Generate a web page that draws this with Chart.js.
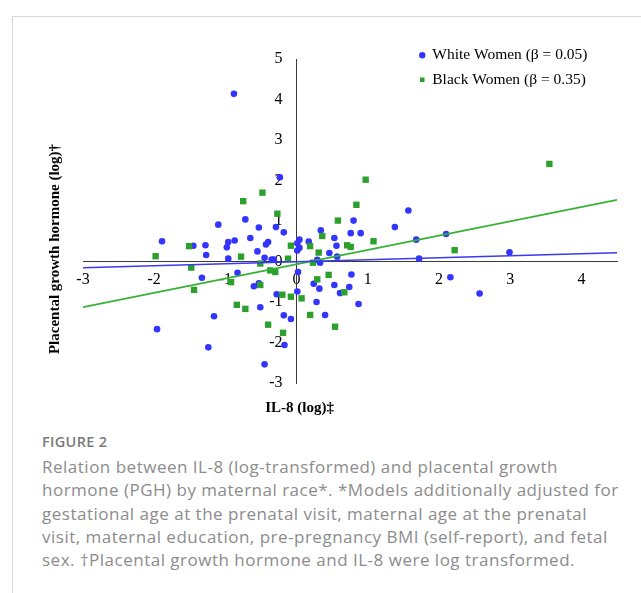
<!DOCTYPE html>
<html>
<head>
<meta charset="utf-8">
<script src="https://cdn.jsdelivr.net/npm/chart.js@4.4.1/dist/chart.umd.min.js"></script>
<style>
  html, body { margin: 0; padding: 0; background: #fff; }
  body { width: 641px; height: 593px; position: relative; overflow: hidden; }
  .frame {
    position: absolute; left: 12px; top: 16px; right: 0; bottom: 0;
    border-left: 1px solid #d6d6d6; border-top: 1px solid #d6d6d6;
  }
  #chart { position: absolute; left: 0; top: 0; }
  .fig {
    position: absolute; left: 42px; top: 432px;
    font-family: "Open Sans", sans-serif; font-weight: 600;
    font-size: 14.5px; color: #7a7a7a; letter-spacing: 0.3px;
  }
  .caption {
    position: absolute; left: 42px; top: 455px;
    font-family: "Open Sans", sans-serif; font-size: 17px; letter-spacing: 0.5px;
    line-height: 23.3px; color: #8c8c8c; white-space: nowrap;
  }
</style>
</head>
<body>
<div class="frame"></div>
<canvas id="chart" width="641" height="430"></canvas>
<div class="fig">FIGURE 2</div>
<div class="caption">Relation between IL-8 (log-transformed) and placental growth<br>hormone (PGH) by maternal race*. *Models additionally adjusted for<br>gestational age at the prenatal visit, maternal age at the prenatal<br>visit, maternal education, pre-pregnancy BMI (self-report), and fetal<br>sex. †Placental growth hormone and IL-8 were log transformed.</div>
<script>
document.addEventListener("DOMContentLoaded", function () {
// IL-8 (log) vs placental growth hormone (log)
const whiteX = [-0.88, -0.235, -1.10, -0.72, -0.53, -0.29, -0.18, -1.89, -1.28, -0.96,
  -0.98, -0.87, -0.65, -0.40, -0.43, -0.55, -1.27, -0.96, -0.45, -0.35,
  -0.32, -1.45, 1.57, 1.38, 0.80, 0.34, 0.76, 0.90, 0.53, 0.56,
  0.46, 0.57, 0.17, 0.04, 0.01, 0.04, 0.01, 0.29, 0.33, 1.68,
  2.10, 1.72, 2.99, 2.16, 2.57, 0.77, 0.87, 0.74, 0.61, 0.53,
  0.32, 0.24, 0.28, 0.40, 0.02, 0.01, -0.08, -0.83, -1.33, -0.60,
  -0.53, -0.28, -0.51, -1.16, -0.18, -0.17, -1.96, -1.24, -0.45];
const whiteY = [4.14, 2.08, 0.91, 1.04, 0.84, 0.85, 0.72, 0.50, 0.40, 0.48,
  0.35, 0.52, 0.58, 0.48, 0.42, 0.25, 0.16, 0.07, 0.09, 0.05,
  0.05, 0.39, 1.26, 0.85, 1.01, 0.77, 0.70, 0.70, 0.58, 0.39,
  0.21, 0.12, 0.49, 0.54, 0.45, 0.34, 0.27, 0.04, -0.03, 0.54,
  0.68, 0.07, 0.23, -0.39, -0.79, -0.32, -1.05, -0.63, -0.78, -0.58,
  -0.67, -0.55, -1.00, -1.32, -0.26, -0.74, -1.42, -0.28, -0.40, -0.61,
  -0.54, -0.81, -1.13, -1.35, -1.33, -2.06, -1.67, -2.12, -2.54];
const blackX = [-0.48, -0.75, -0.27, -1.51, -1.98, -0.78, -0.08, -0.12, -0.51, 0.97,
  0.84, 0.58, 0.36, 1.08, 0.19, 0.31, 0.71, 0.76, 0.23, 3.55,
  2.22, 0.67, 0.45, 0.29, 0.19, 0.54, 0.07, -1.48, -1.44, -0.92,
  -0.51, -0.37, -0.30, -0.20, -0.08, -0.84, -0.72, -0.40, -0.19];
const blackY = [1.70, 1.49, 1.18, 0.38, 0.13, 0.12, 0.39, 0.07, -0.05, 2.02,
  1.40, 1.01, 0.63, 0.50, 0.38, 0.22, 0.40, 0.36, -0.03, 2.41,
  0.28, -0.76, -0.33, -0.44, -1.32, -1.61, -0.91, -0.15, -0.70, -0.51,
  -0.58, -0.22, -0.26, -0.82, -0.87, -1.07, -1.17, -1.56, -1.76];
const trendX = [-3, 4.5];
const whiteTrend = [-0.156, 0.215];
const blackTrend = [-1.128, 1.523];
const xTicks = [-3, -2, -1, 0, 1, 2, 3, 4];
const yTicks = [-3, -2, -1, 0, 1, 2, 3, 4, 5];

const pts = (xs, ys) => xs.map((x, i) => ({x: x, y: ys[i]}));
const serif = "'Liberation Serif', 'Times New Roman', serif";

// axis titles sit outside the crossing axes, so draw them by hand
const axisTitles = {
  id: 'axisTitles',
  afterDraw(chart) {
    const ctx = chart.ctx, area = chart.chartArea;
    ctx.save();
    ctx.fillStyle = '#000';
    ctx.font = 'bold 15px ' + serif;
    ctx.textAlign = 'center';
    ctx.textBaseline = 'middle';
    ctx.fillText('IL-8 (log)‡', chart.scales.x.getPixelForValue(0) + 3, area.bottom + 25);
    ctx.translate(area.left - 28, 249);
    ctx.rotate(-Math.PI / 2);
    ctx.fillText('Placental growth hormone (log)†', 0, 0);
    ctx.restore();
  }
};

// legend lives inside the plot, top right; y labels sit left of the crossing axis
const placeBits = {
  id: 'placeBits',
  afterLayout(chart) {
    const lg = chart.legend;
    lg.left = 411;
    lg.top = 38.5;
    lg.right = lg.left + 200;
    lg.bottom = lg.top + 60;
  },
  beforeDraw(chart) {
    chart.scales.y.getLabelItems().forEach(it => {
      if (!it.moved) {
        it.options.translation[0] -= 14;
        it.moved = true;
      }
    });
  }
};

const config = {
  type: 'scatter',
  data: {
    datasets: [{
      label: 'White Women (β = 0.05)',
      data: pts(whiteX, whiteY),
      backgroundColor: '#3434ff',
      borderWidth: 0,
      pointStyle: 'circle',
      pointRadius: 3.3,
      order: 2
    }, {
      label: 'Black Women (β = 0.35)',
      data: pts(blackX, blackY),
      backgroundColor: '#2ca02c',
      borderWidth: 0,
      pointStyle: 'rect',
      pointRadius: 4.5,
      order: 1
    }, {
      type: 'line',
      label: 'White trend',
      data: pts(trendX, whiteTrend),
      borderColor: '#3a3af2',
      borderWidth: 1.6,
      pointRadius: 0,
      fill: false,
      order: 0
    }, {
      type: 'line',
      label: 'Black trend',
      data: pts(trendX, blackTrend),
      borderColor: '#33b233',
      borderWidth: 1.6,
      pointRadius: 0,
      fill: false,
      order: 0
    }]
  },
  options: {
    responsive: false,
    animation: false,
    layout: { padding: { left: 83, right: 24, top: 59, bottom: 47 } },
    scales: {
      x: {
        type: 'linear',
        min: -3,
        max: 4.5,
        position: { y: 0 },
        afterBuildTicks: s => { s.ticks = xTicks.map(v => ({value: v})); },
        grid: { display: false, drawTicks: false },
        border: { display: true, color: '#3a3a3a', width: 1 },
        ticks: { color: '#000', padding: 9, font: { family: serif, size: 16 } }
      },
      y: {
        type: 'linear',
        min: -3,
        max: 5,
        position: { x: 0 },
        afterBuildTicks: s => { s.ticks = yTicks.map(v => ({value: v})); },
        grid: { display: false, drawTicks: false },
        border: { display: true, color: '#3a3a3a', width: 1 },
        ticks: { color: '#000', font: { family: serif, size: 16 } }
      }
    },
    plugins: {
      tooltip: { enabled: false },
      legend: {
        display: true,
        position: 'chartArea',
        align: 'start',
        labels: {
          filter: item => item.datasetIndex < 2,
          sort: (a, b) => a.datasetIndex - b.datasetIndex,
          usePointStyle: true,
          boxWidth: 4.5,
          boxHeight: 4.5,
          padding: 9,
          color: '#000',
          font: { family: serif, size: 15.5 }
        }
      }
    }
  },
  plugins: [placeBits, axisTitles]
};

new Chart(document.getElementById('chart'), config);
});
</script>
</body>
</html>
